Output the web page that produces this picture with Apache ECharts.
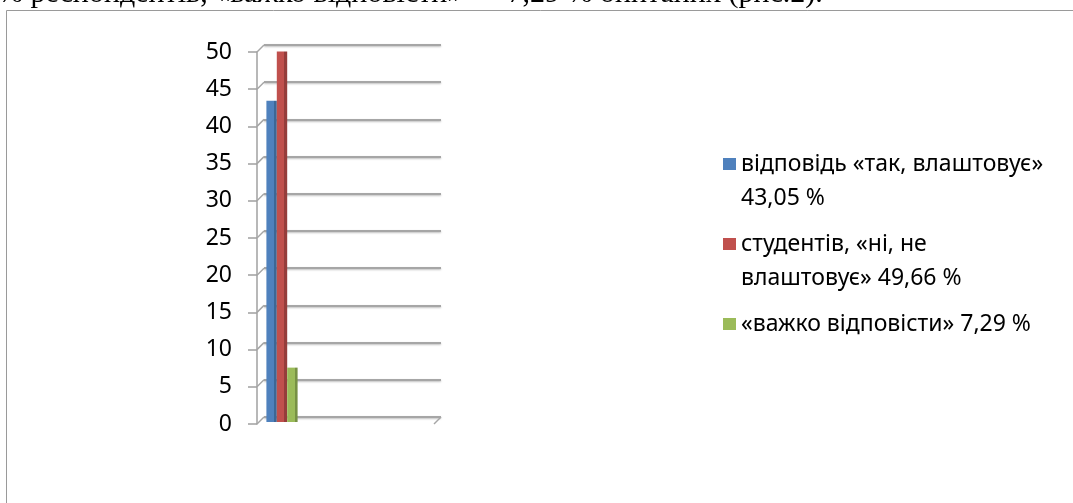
<!DOCTYPE html>
<html>
<head>
<meta charset="utf-8">
<script src="https://cdn.jsdelivr.net/npm/echarts@6.0.0/dist/echarts.min.js"></script>
<style>
  html, body { margin: 0; padding: 0; background: #fff; }
  #chart { width: 1073px; height: 503px; }
</style>
</head>
<body>
<div id="chart"></div>
<script>
// дані діаграми (рис.2)
const categories = ['']
const seriesNames = [
  'відповідь «так, влаштовує»\n43,05 %',
  'студентів, «ні, не\nвлаштовує» 49,66 %',
  '«важко відповісти» 7,29 %'
]
const seriesValues = [43.05, 49.66, 7.29]
const seriesColors = ['#4f81bd', '#c0504d', '#9bbb59']
const sideColors = ['#3c6796', '#953d3b', '#779144']
const yTicks = [0, 5, 10, 15, 20, 25, 30, 35, 40, 45, 50]
const captionText = '% респондентів, «важко відповісти» — 7,29 % опитаних (рис.2).'

const chart = echarts.init(document.getElementById('chart'))

const lineH = 34
const depth = 7
const yMin = yTicks[0]
const yMax = yTicks[yTicks.length - 1]
const yStep = yTicks[1] - yTicks[0]

const series = seriesValues.map((v, i) => ({
  name: seriesNames[i],
  type: 'bar',
  xAxisIndex: 2,
  yAxisIndex: 2,
  data: [v],
  barGap: '0%',
  barWidth: 10.4,
  itemStyle: {
    color: new echarts.graphic.LinearGradient(0, 0, 1, 0, [
      { offset: 0, color: seriesColors[i] },
      { offset: 0.72, color: seriesColors[i] },
      { offset: 0.72, color: sideColors[i] },
      { offset: 1, color: sideColors[i] }
    ])
  }
}))

// косі з'єднання поділок передньої осі із задньою стінкою
series.push({
  type: 'custom',
  xAxisIndex: 1,
  yAxisIndex: 1,
  silent: true,
  z: 1,
  data: yTicks.map(t => [0, t]),
  renderItem: (params, api) => {
    const cs = params.coordSys
    const y = api.coord([0, api.value(1)])[1]
    const lines = [{
      type: 'line',
      shape: { x1: cs.x - depth, y1: y + depth, x2: cs.x, y2: y },
      style: { stroke: '#a6a6a6', lineWidth: 1.5 }
    }]
    if (api.value(1) === yMin) {
      lines.push({
        type: 'line',
        shape: { x1: cs.x + cs.width - depth, y1: y + depth, x2: cs.x + cs.width, y2: y },
        style: { stroke: '#a6a6a6', lineWidth: 1.5 }
      })
    }
    return { type: 'group', children: lines }
  }
})

const option = {
  animation: false,
  textStyle: { fontFamily: '"Noto Sans", sans-serif' },
  graphic: [
    {
      type: 'rect',
      z: -1,
      shape: { x: 6.5, y: 10.5, width: 1100, height: 600 },
      style: { fill: 'none', stroke: '#9a9a9a', lineWidth: 1 }
    },
    {
      type: 'text',
      x: -2,
      y: 9,
      style: {
        text: captionText,
        font: '30px "Liberation Serif", serif',
        fill: '#000',
        verticalAlign: 'bottom'
      }
    }
  ],
  legend: {
    left: 723,
    top: 113,
    orient: 'vertical',
    padding: 0,
    itemWidth: 13,
    itemHeight: 12,
    itemGap: -22,
    icon: 'path://M0,0H10V10H0Z',
    symbolKeepAspect: false,
    itemStyle: { borderWidth: 0 },
    // порожній рядок зверху, щоб маркер стояв навпроти першого рядка
    formatter: name => '\n' + name + (name.indexOf('\n') >= 0 ? '' : '\n'),
    textStyle: { fontSize: 23, color: '#000', lineHeight: lineH },
    data: seriesNames.map((n, i) => ({ name: n, itemStyle: { color: seriesColors[i] } }))
  },
  grid: [
    // передня вісь з підписами
    { left: 257, top: 52, width: 10, bottom: 79 },
    // задня стінка з лініями сітки
    { left: 264, top: 45, width: 177, bottom: 86 },
    // стовпці
    { left: 266, top: 49, width: 32, bottom: 81 }
  ],
  xAxis: [
    { gridIndex: 0, type: 'category', data: categories, show: false },
    { gridIndex: 1, type: 'value', min: 0, max: 1, show: false },
    { gridIndex: 2, type: 'category', data: categories, show: false }
  ],
  yAxis: [
    {
      gridIndex: 0,
      type: 'value',
      min: yMin,
      max: yMax,
      interval: yStep,
      axisLine: { show: true, lineStyle: { color: '#a0a0a0', width: 1.5 } },
      axisTick: { show: true, length: 9, lineStyle: { color: '#a0a0a0', width: 1.5 } },
      axisLabel: { margin: 25, fontSize: 23, color: '#000' },
      splitLine: { show: false }
    },
    {
      gridIndex: 1,
      type: 'value',
      min: yMin,
      max: yMax,
      interval: yStep,
      axisLine: { show: false },
      axisTick: { show: false },
      axisLabel: { show: false },
      splitLine: {
        show: true,
        lineStyle: { color: '#a6a6a6', width: 2, shadowColor: 'rgba(0,0,0,0.25)', shadowBlur: 2, shadowOffsetY: 1 }
      }
    },
    {
      gridIndex: 2,
      type: 'value',
      min: yMin,
      max: yMax,
      show: false,
      splitLine: { show: false }
    }
  ],
  series
}

chart.setOption(option)
</script>
</body>
</html>
